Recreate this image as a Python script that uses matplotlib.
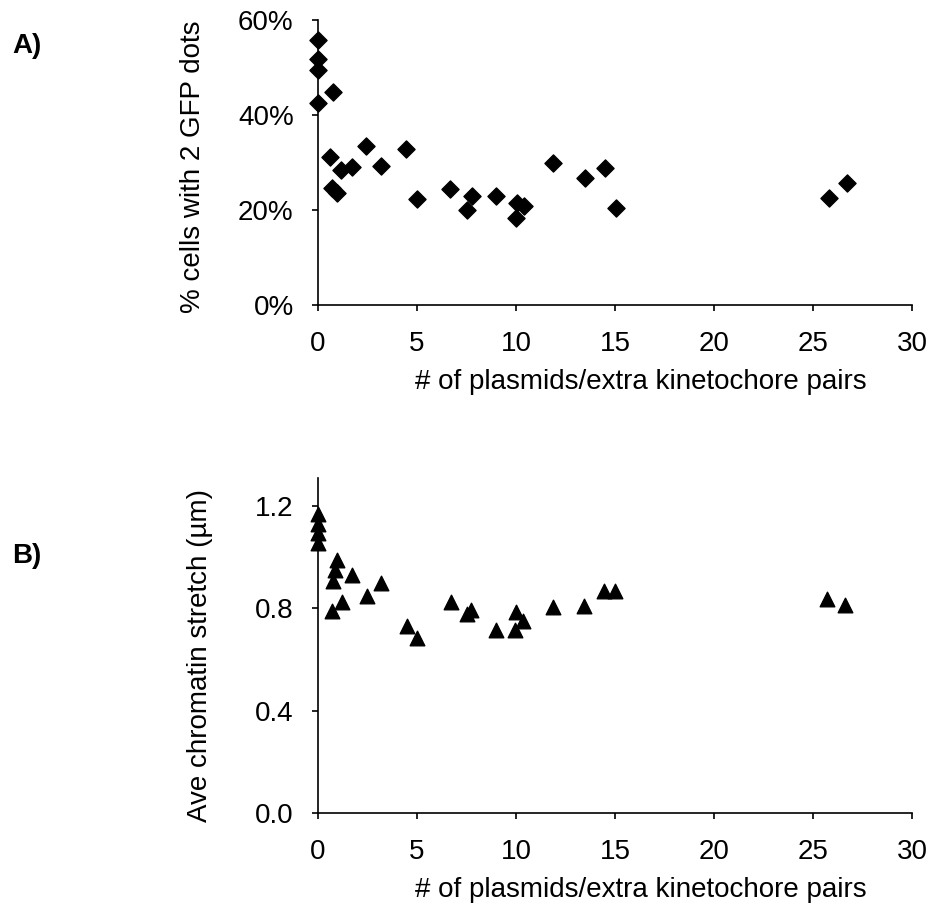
import matplotlib
matplotlib.use("Agg")
import matplotlib.pyplot as plt
from matplotlib.ticker import FuncFormatter

plt.rcParams['font.family'] = ['Liberation Sans', 'DejaVu Sans']
plt.rcParams['font.size'] = 20

# panel A: % cells with 2 GFP dots
x_a = [0, 0, 0, 0, 0.77, 0.61, 0.69, 0.94, 1.15, 1.7, 2.42, 3.18, 4.44, 4.98,
       6.67, 7.5, 7.76, 9.0, 9.98, 10.04, 10.4, 11.85, 13.5, 14.5, 15.05, 25.8, 26.7]
pct_a = [55.8, 51.8, 49.5, 42.5, 44.9, 31.2, 24.6, 23.5, 28.4, 29.1, 33.5, 29.3, 32.8, 22.3,
         24.4, 19.9, 23.0, 23.0, 18.4, 21.5, 20.8, 29.8, 26.8, 28.9, 20.4, 22.5, 25.6]

# panel B: average chromatin stretch (um)
x_b = [0, 0, 0, 0, 0.69, 0.77, 0.86, 0.98, 1.23, 1.73, 2.46, 3.2, 4.48, 4.98,
       6.7, 7.5, 7.75, 8.98, 9.97, 10.0, 10.37, 11.85, 13.45, 14.46, 15.0, 25.7, 26.6]
stretch_b = [1.17, 1.13, 1.094, 1.056, 0.79, 0.906, 0.95, 0.99, 0.824, 0.93, 0.85, 0.90, 0.733, 0.685,
             0.824, 0.779, 0.793, 0.715, 0.717, 0.785, 0.75, 0.805, 0.81, 0.87, 0.87, 0.838, 0.815]

xticks = [0, 5, 10, 15, 20, 25, 30]
xlabel = "# of plasmids/extra kinetochore pairs"

fig = plt.figure(figsize=(9.48, 9.13), dpi=100)
W, H = 948, 913


def px_axes(left, top, right, bottom):
    return fig.add_axes([left / W, 1 - bottom / H, (right - left) / W, (bottom - top) / H])


def style(ax):
    for s in ['top', 'right']:
        ax.spines[s].set_visible(False)
    for s in ['left', 'bottom']:
        ax.spines[s].set_linewidth(1.2)
    ax.tick_params(direction='out', length=4.5, width=1.2, labelsize=20)
    ax.tick_params(axis='x', pad=14)
    ax.tick_params(axis='y', pad=13)
    ax.set_xlim(0, 30)
    ax.set_xticks(xticks)


axA = px_axes(318, 20, 912, 305)
axA.scatter(x_a, pct_a, marker='D', s=8.7 ** 2, color='black', clip_on=False, zorder=3)
style(axA)
axA.set_ylim(0, 60)
axA.set_yticks([0, 20, 40, 60])
axA.yaxis.set_major_formatter(FuncFormatter(lambda v, p: f"{v:.0f}%"))
axA.set_ylabel("% cells with 2 GFP dots", fontsize=20)
axA.yaxis.set_label_coords(-0.188, 0.484)
axA.set_xlabel(xlabel, fontsize=20)
axA.xaxis.set_label_coords(0.544, -0.225)

axB = px_axes(318, 478, 912, 813)
axB.scatter(x_b, stretch_b, marker='^', s=10.5 ** 2, color='black', clip_on=False, zorder=3)
style(axB)
axB.set_ylim(0, 1.31)
axB.set_yticks([0, 0.4, 0.8, 1.2])
axB.yaxis.set_major_formatter(FuncFormatter(lambda v, p: f"{v:.1f}"))
axB.set_ylabel("Ave chromatin stretch (µm)", fontsize=20)
axB.yaxis.set_label_coords(-0.177, 0.469)
axB.set_xlabel(xlabel, fontsize=20)
axB.xaxis.set_label_coords(0.544, -0.191)

fig.text(12 / W, 1 - 46 / H, "A)", fontsize=20, fontweight='bold', va='center', ha='left')
fig.text(12 / W, 1 - 556 / H, "B)", fontsize=20, fontweight='bold', va='center', ha='left')

fig.savefig("out.png", dpi=100)
